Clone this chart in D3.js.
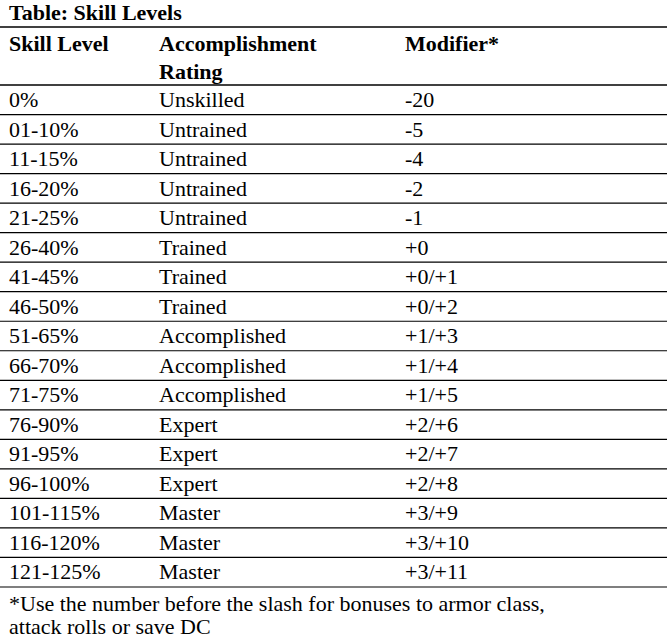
<!DOCTYPE html>
<html><head><meta charset="utf-8">
<script src="https://cdn.jsdelivr.net/npm/d3@7"></script>
<style>body{margin:0;background:#fff}</style>
</head><body><div id="chart"></div>
<script>
const headers = [["Skill Level"], ["Accomplishment", "Rating"], ["Modifier*"]];
const skillLevels = ["0%","01-10%","11-15%","16-20%","21-25%","26-40%","41-45%","46-50%","51-65%","66-70%","71-75%","76-90%","91-95%","96-100%","101-115%","116-120%","121-125%"];
const ratings = ["Unskilled","Untrained","Untrained","Untrained","Untrained","Trained","Trained","Trained","Accomplished","Accomplished","Accomplished","Expert","Expert","Expert","Master","Master","Master"];
const modifiers = ["-20","-5","-4","-2","-1","+0","+0/+1","+0/+2","+1/+3","+1/+4","+1/+5","+2/+6","+2/+7","+2/+8","+3/+9","+3/+10","+3/+11"];
const footnote = ["*Use the number before the slash for bonuses to armor class,", "attack rolls or save DC"];

const width = 667, height = 643;
const colX = [9, 159, 405];
const font = "Liberation Serif, Tinos, Times New Roman, serif";

const svg = d3.select("#chart").append("svg").attr("width", width).attr("height", height)
  .style("font-family", font);

// title
svg.append("text").attr("x", 9).attr("y", 20).text("Table: Skill Levels")
  .style("font-size", "22px").style("font-weight", "bold");
svg.append("line").attr("x1", 0).attr("x2", width).attr("y1", 27).attr("y2", 27)
  .attr("stroke", "#000").attr("stroke-width", 1.5);

// header
headers.forEach((h, i) => {
  h.forEach((t, j) => {
    svg.append("text").attr("x", colX[i]).attr("y", 51 + j * 28).text(t)
      .style("font-size", "22px").style("font-weight", "bold");
  });
});

const y = d3.scaleBand().domain(d3.range(skillLevels.length)).range([85, 587]);

svg.append("line").attr("x1", 0).attr("x2", width).attr("y1", 85).attr("y2", 85)
  .attr("stroke", "#000").attr("stroke-width", 1.5);

const rows = svg.selectAll("g.row").data(skillLevels.map((s, i) => [s, ratings[i], modifiers[i]]))
  .enter().append("g").attr("class", "row")
  .attr("transform", (d, i) => `translate(0,${y(i)})`);

rows.selectAll("text").data(d => d).enter().append("text")
  .attr("x", (d, i) => colX[i]).attr("y", 22).text(d => d)
  .style("font-size", "22px");

rows.append("line").attr("x1", 0).attr("x2", width)
  .attr("y1", y.bandwidth()).attr("y2", y.bandwidth())
  .attr("stroke", "#000").attr("stroke-width", 1.2);

footnote.forEach((t, i) => {
  svg.append("text").attr("x", 9).attr("y", 611 + i * 23).text(t)
    .style("font-size", "22px");
});
</script></body></html>
